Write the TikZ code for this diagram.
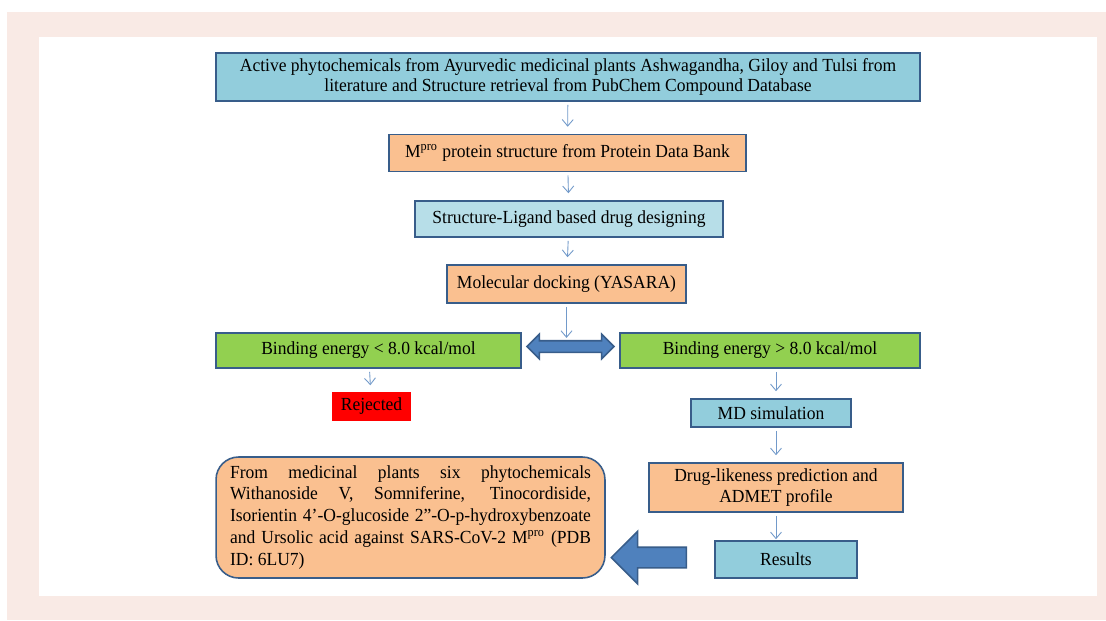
\documentclass[tikz,border=0pt]{standalone}
\usepackage{fontspec}
\setmainfont{Liberation Serif}[FakeStretch=0.95]
\usepackage{tikz}
\usetikzlibrary{shapes.arrows,arrows.meta,positioning,calc}
\definecolor{framepink}{RGB}{249,234,229}
\definecolor{edgeblue}{RGB}{56,93,138}
\definecolor{skyblue}{RGB}{146,205,220}
\definecolor{paleblue}{RGB}{183,222,232}
\definecolor{peach}{RGB}{250,192,144}
\definecolor{leafgreen}{RGB}{146,208,80}
\definecolor{arrowblue}{RGB}{79,129,189}

\begin{document}
\begin{tikzpicture}[x=0.02cm, y=-0.02cm,
    box/.style={rectangle, draw=edgeblue, line width=0.9pt, align=center,
                font=\fontsize{10.5}{11.6}\selectfont, inner sep=1pt},
    bluebox/.style={box, fill=skyblue},
    palebox/.style={box, fill=paleblue},
    peachbox/.style={box, fill=peach},
    greenbox/.style={box, fill=leafgreen},
    thinarr/.style={-{Straight Barb[length=1.3mm,width=2.2mm]}, arrowblue!80, line width=0.5pt,
                    shorten <=0.6mm, shorten >=1.4mm},
    fatarr/.style={fill=arrowblue, draw=edgeblue, line width=0.9pt}
]
    % frame
    \useasboundingbox (0,0) rectangle (1106,620);
    \fill[framepink] (7,12) rectangle (1106,620);
    \fill[white] (39,37) rectangle (1097,596);

    % main column
    \node[bluebox, minimum width=14.08cm, minimum height=0.96cm] (src) at (568,77)
        {Active phytochemicals from Ayurvedic medicinal plants Ashwagandha, Giloy and Tulsi from\\
         literature and Structure retrieval from PubChem Compound Database};
    \node[peachbox, minimum width=7.14cm, minimum height=0.74cm] (pdb) at (567.5,153)
        {M\textsuperscript{pro} protein structure from Protein Data Bank};
    \node[palebox, minimum width=6.16cm, minimum height=0.72cm] (design) at (569,219)
        {Structure-Ligand based drug designing};
    \node[peachbox, minimum width=4.78cm, minimum height=0.76cm] (dock) at (566.5,284)
        {Molecular docking (YASARA)};

    % binding energy split
    \node[greenbox, minimum width=6.1cm, minimum height=0.7cm] (low) at (368.5,350.5)
        {Binding energy < 8.0 kcal/mol};
    \node[greenbox, minimum width=6.0cm, minimum height=0.7cm] (high) at (770,350.5)
        {Binding energy > 8.0 kcal/mol};
    \node[fatarr, double arrow, minimum height=1.74cm, minimum width=0.46cm, inner sep=0.1cm,
          double arrow head extend=0.13cm] (split) at (570.5,346.5) {};

    \node[box, fill=red, draw=red, minimum width=1.54cm, minimum height=0.54cm] (rej) at (371.5,406.5)
        {Rejected};

    % right branch
    \node[bluebox, minimum width=3.2cm, minimum height=0.56cm] (md) at (771,413) {MD simulation};
    \node[peachbox, minimum width=5.08cm, minimum height=0.98cm] (admet) at (776,487.5)
        {Drug-likeness prediction and\\ ADMET profile};
    \node[bluebox, minimum width=2.84cm, minimum height=0.74cm] (res) at (786,559.5) {Results};

    % outcome
    \node[peachbox, rounded corners=0.45cm, minimum width=7.78cm, minimum height=2.42cm,
          text width=7.22cm, align=justify, font=\fontsize{10.5}{12.5}\selectfont] (final) at (410.5,517.5)
        {From medicinal plants six phytochemicals\linebreak
         Withanoside V, Somniferine, Tinocordiside,\linebreak
         Isorientin 4’-O-glucoside 2”-O-p-hydroxybenzoate\linebreak
         and Ursolic acid against SARS-CoV-2 M\textsuperscript{pro} (PDB\linebreak
         ID: 6LU7)};
    \node[fatarr, single arrow, shape border rotate=180, minimum height=1.5cm, minimum width=1.02cm,
          inner sep=0.19cm, single arrow head extend=0.32cm] (back) at (654,557.5) {};

    \draw[thinarr] (src) -- (pdb);
    \draw[thinarr] (pdb) -- (design);
    \draw[thinarr] (design) -- (dock);
    \draw[thinarr, shorten >=0.4mm] (dock) -- (dock |- split.north);
    \draw[thinarr] (low) -- (rej);
    \draw[thinarr] (high.south -| admet) -- (md.north -| admet);
    \draw[thinarr] (md.south -| admet) -- (admet);
    \draw[thinarr, shorten >=0.2mm] (admet) -- (res.north -| admet);
\end{tikzpicture}
\end{document}
